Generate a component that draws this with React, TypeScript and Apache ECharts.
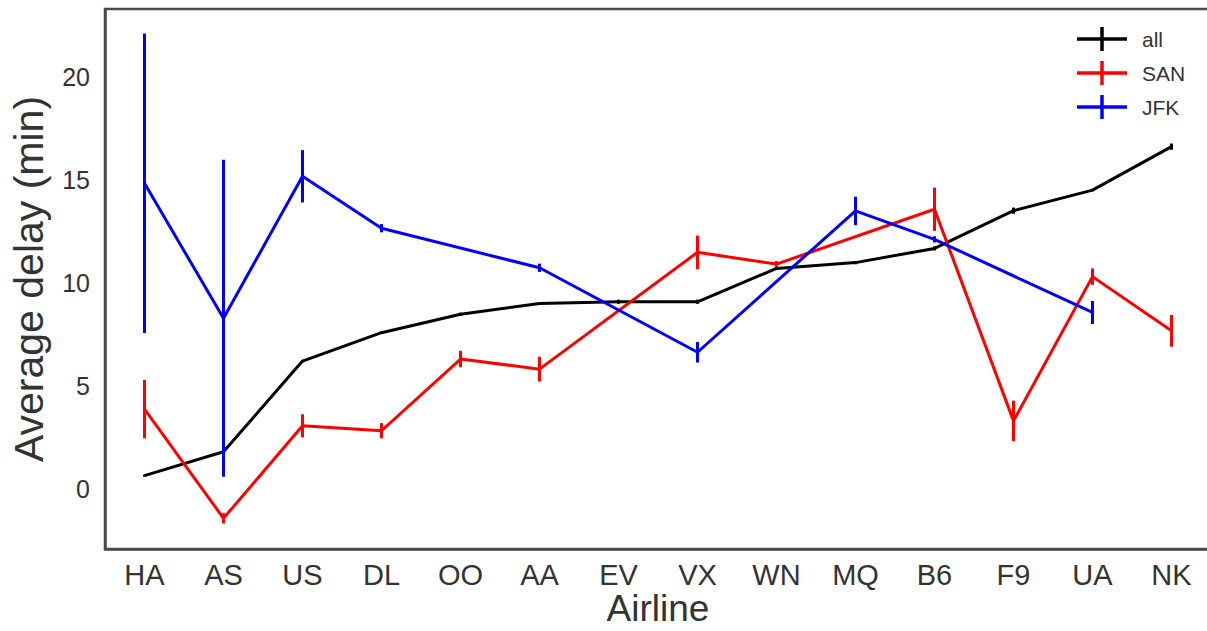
import React, { useEffect, useRef } from "react";
import * as echarts from "echarts";

const airlines = ["HA", "AS", "US", "DL", "OO", "AA", "EV", "VX", "WN", "MQ", "B6", "F9", "UA", "NK"];

const allMean = [0.65, 1.81, 6.21, 7.59, 8.48, 9.01, 9.09, 9.09, 10.71, 10.99, 11.68, 13.51, 14.51, 16.62];
const allErr = [0.05, 0.1, 0.06, 0.05, 0.08, 0.06, 0.1, 0.1, 0.05, 0.08, 0.1, 0.15, 0.06, 0.15];

const sanMean = [3.88, -1.42, 3.07, 2.83, 6.31, 5.82, null, 11.49, 10.92, null, 13.58, 3.31, 10.31, 7.68];
const sanErr = [1.42, 0.25, 0.56, 0.37, 0.4, 0.6, null, 0.81, 0.15, null, 1.05, 0.98, 0.4, 0.77];

const jfkMean = [14.84, 8.29, 15.18, 12.66, null, 10.74, null, 6.64, null, 13.5, 12.12, null, 8.57, null];
const jfkErr = [7.27, 7.69, 1.27, 0.2, null, 0.2, null, 0.5, null, 0.69, 0.15, null, 0.56, null];

const yTicks = [0, 5, 10, 15, 20];

const FONT = "'Liberation Sans', Arial, Helvetica, sans-serif";
const TEXT = "#333333";
const FRAME = "#4a4a4a";
const CROSS = "path://M0,10.25 H50 V13.75 H0 Z M23.25,0 H26.75 V24 H23.25 Z";

function errData(mean: (number | null)[], err: (number | null)[]) {
  const out: any[] = [];
  mean.forEach((m, i) => {
    const e = err[i];
    if (m == null || e == null) return;
    out.push([i, m - e, m + e]);
  });
  return out;
}

function errSeries(name: string, color: string, mean: any[], err: any[], z: number) {
  return {
    type: "custom",
    name: name + "-err",
    z,
    data: errData(mean, err),
    encode: { x: 0, y: [1, 2] },
    renderItem: (params: any, api: any) => {
      const x = api.value(0);
      const p1 = api.coord([x, api.value(1)]);
      const p2 = api.coord([x, api.value(2)]);
      return {
        type: "line",
        shape: { x1: p1[0], y1: p1[1], x2: p2[0], y2: p2[1] },
        style: { stroke: color, lineWidth: 3 },
      };
    },
  };
}

function lineSeries(name: string, color: string, data: any[], z: number) {
  return {
    type: "line",
    name,
    z,
    data,
    connectNulls: true,
    symbol: "none",
    color,
    itemStyle: { color },
    lineStyle: { color, width: 3 },
  };
}

export default function App() {
  const ref = useRef<HTMLDivElement>(null);
  useEffect(() => {
    if (!ref.current) return;
    const chart = echarts.init(ref.current, undefined, { renderer: "svg" });
    chart.setOption({
      animation: false,
      backgroundColor: "#ffffff",
      textStyle: { fontFamily: FONT },
      grid: {
        left: 105,
        top: 9,
        width: 1106,
        height: 540,
        show: true,
        borderColor: FRAME,
        borderWidth: 2.5,
        containLabel: false,
        outerBoundsMode: "none",
      },
      legend: {
        left: 1072,
        top: 22,
        orient: "vertical",
        itemWidth: 50,
        itemHeight: 24,
        itemGap: 10,
        textStyle: { fontSize: 21, color: TEXT, fontFamily: FONT, padding: [0, 0, 0, 10] },
        data: [
          { name: "all", icon: CROSS },
          { name: "SAN", icon: CROSS },
          { name: "JFK", icon: CROSS },
        ],
      },
      xAxis: {
        type: "category",
        data: airlines,
        boundaryGap: true,
        name: "Airline",
        nameLocation: "middle",
        nameGap: 39,
        nameMoveOverlap: false,
        nameTextStyle: { fontSize: 37, lineHeight: 40, color: TEXT, fontFamily: FONT },
        axisLine: { show: true, onZero: false, lineStyle: { color: FRAME, width: 2.5 } },
        axisTick: { show: false },
        splitLine: { show: false },
        axisLabel: { fontSize: 29, color: TEXT, margin: 11, fontFamily: FONT },
      },
      yAxis: {
        type: "value",
        min: -2.91,
        max: 23.3,
        splitNumber: 5,
        name: "Average delay (min)",
        nameLocation: "middle",
        nameGap: 56,
        nameMoveOverlap: false,
        nameTextStyle: { fontSize: 41, color: TEXT, fontFamily: FONT },
        axisLine: { show: true, onZero: false, lineStyle: { color: FRAME, width: 2.5 } },
        axisTick: { show: false },
        splitLine: { show: false },
        axisLabel: {
          fontSize: 25,
          color: TEXT,
          margin: 15,
          fontFamily: FONT,
          showMinLabel: false,
          showMaxLabel: false,
          formatter: (v: number) => (yTicks.indexOf(v) >= 0 ? String(v) : ""),
        },
      },
      series: [
        errSeries("all", "#000000", allMean, allErr, 2),
        lineSeries("all", "#000000", allMean, 2),
        errSeries("SAN", "#ff0000", sanMean, sanErr, 3),
        lineSeries("SAN", "#ff0000", sanMean, 3),
        errSeries("JFK", "#0000ff", jfkMean, jfkErr, 4),
        lineSeries("JFK", "#0000ff", jfkMean, 4),
      ],
    });
    return () => chart.dispose();
  }, []);
  return (
    <div
      ref={ref}
      style={{ position: "fixed", left: 0, top: 0, width: 1207, height: 631, background: "#fff" }}
    />
  );
}
